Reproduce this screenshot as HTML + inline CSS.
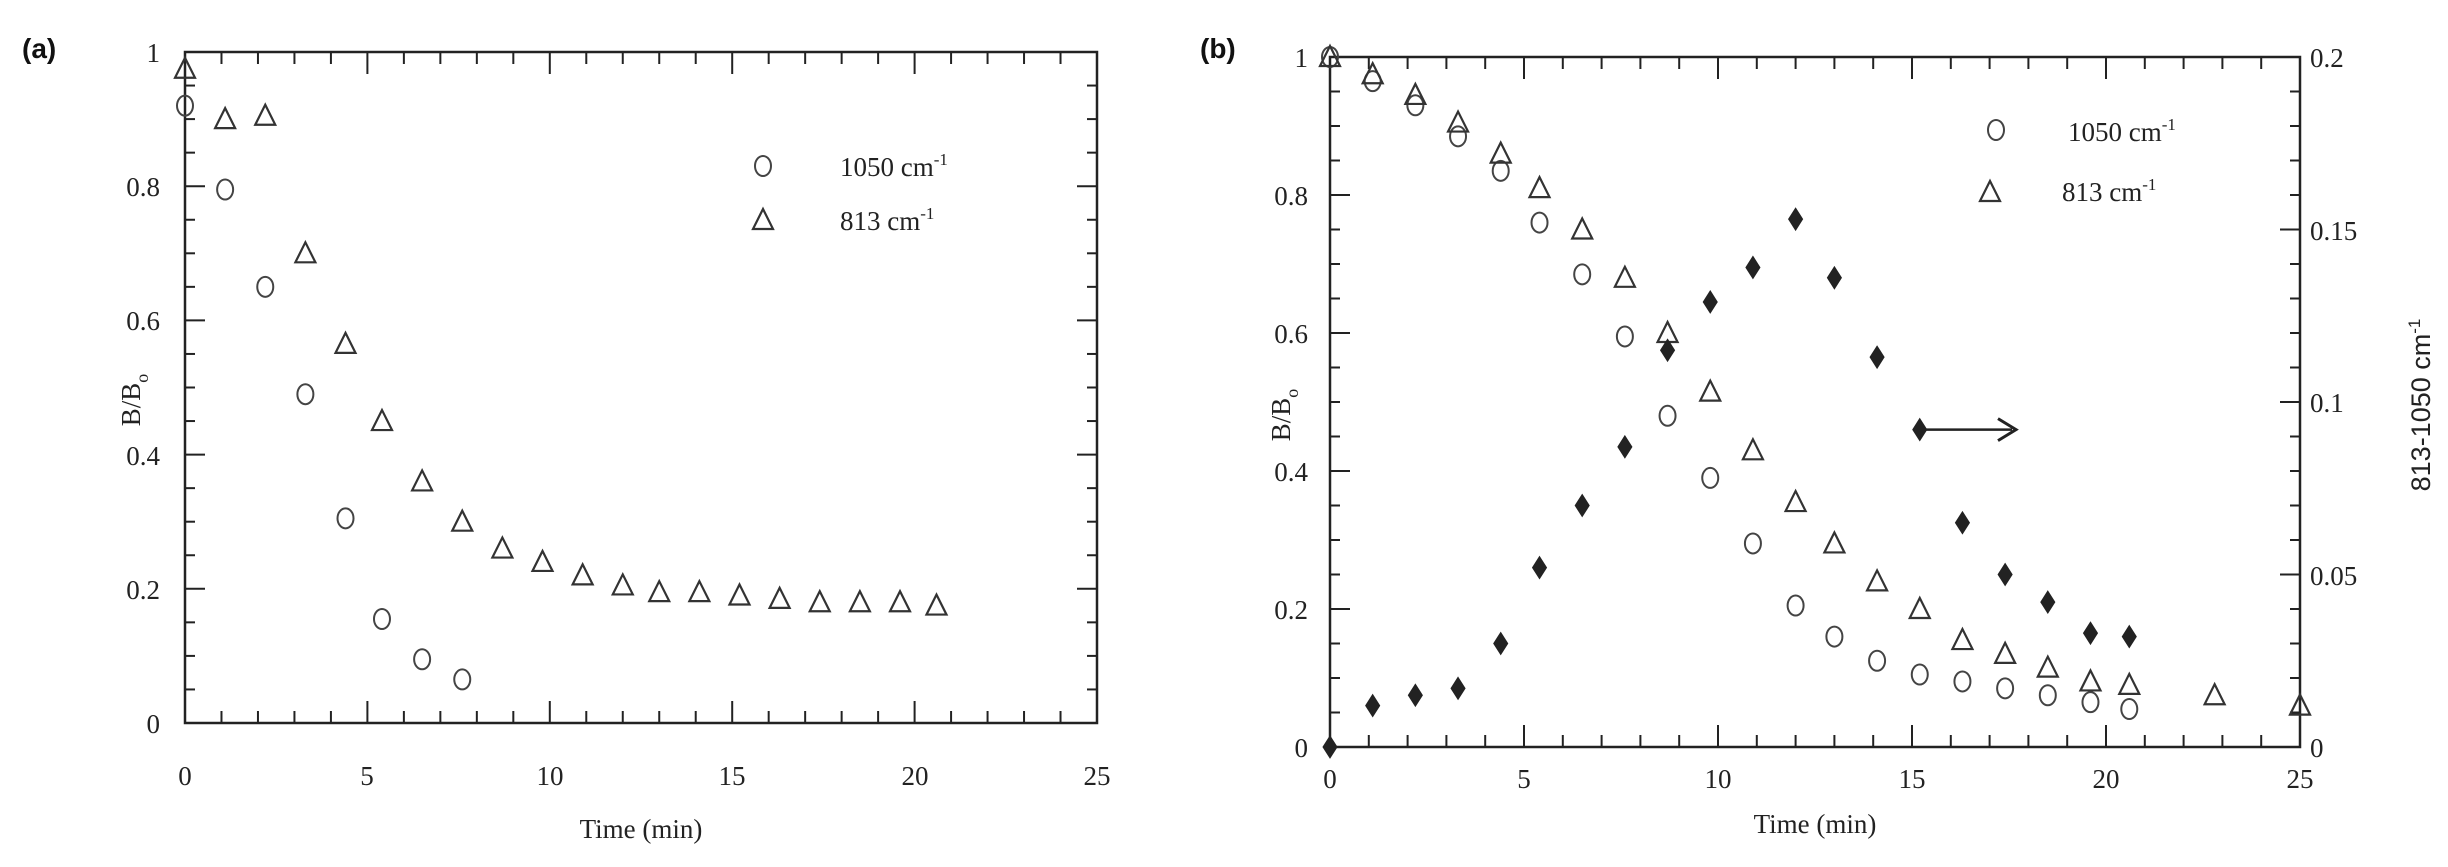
<!DOCTYPE html>
<html><head><meta charset="utf-8"><style>
html,body{margin:0;padding:0;background:#fff;}
svg{display:block;}
text{font-family:"Liberation Serif",serif;fill:#222;}
</style></head><body>
<svg id="s" width="2448" height="867" viewBox="0 0 2448 867" xmlns="http://www.w3.org/2000/svg">
<g id="g"></g>
<text x="22" y="58" style="font-family:'Liberation Sans',sans-serif;font-weight:bold;font-size:28px;fill:#111">(a)</text>
<text x="1200" y="58" style="font-family:'Liberation Sans',sans-serif;font-weight:bold;font-size:28px;fill:#111">(b)</text>
<g font-size="27" text-anchor="end">
<text x="160" y="62">1</text><text x="160" y="196">0.8</text><text x="160" y="330">0.6</text><text x="160" y="465">0.4</text><text x="160" y="599">0.2</text><text x="160" y="733">0</text>
<text x="1308" y="67">1</text><text x="1308" y="205">0.8</text><text x="1308" y="343">0.6</text><text x="1308" y="481">0.4</text><text x="1308" y="619">0.2</text><text x="1308" y="757">0</text>
</g>
<g font-size="27" text-anchor="start">
<text x="2310" y="67">0.2</text><text x="2310" y="240">0.15</text><text x="2310" y="412">0.1</text><text x="2310" y="585">0.05</text><text x="2310" y="757">0</text>
</g>
<g font-size="27" text-anchor="middle">
<text x="185" y="785">0</text><text x="367" y="785">5</text><text x="550" y="785">10</text><text x="732" y="785">15</text><text x="915" y="785">20</text><text x="1097" y="785">25</text>
<text x="1330" y="788">0</text><text x="1524" y="788">5</text><text x="1718" y="788">10</text><text x="1912" y="788">15</text><text x="2106" y="788">20</text><text x="2300" y="788">25</text>
<text x="641" y="838">Time (min)</text>
<text x="1815" y="833">Time (min)</text>
</g>
<text transform="translate(140,400) rotate(-90)" font-size="27" text-anchor="middle">B/B<tspan font-size="18" dy="8">o</tspan></text>
<text transform="translate(1290,415) rotate(-90)" font-size="27" text-anchor="middle">B/B<tspan font-size="18" dy="8">o</tspan></text>
<text transform="translate(2430,405) rotate(-90)" font-size="27" text-anchor="middle" style="font-family:'Liberation Sans',sans-serif">813-1050 cm<tspan font-size="17" dy="-10">-1</tspan></text>
<text x="840" y="176" font-size="27">1050 cm<tspan font-size="17" dy="-11">-1</tspan></text>
<text x="840" y="230" font-size="27">813 cm<tspan font-size="17" dy="-11">-1</tspan></text>
<text x="2068" y="141" font-size="27">1050 cm<tspan font-size="17" dy="-11">-1</tspan></text>
<text x="2062" y="201" font-size="27">813 cm<tspan font-size="17" dy="-11">-1</tspan></text>
</svg>
<script>
var NS="http://www.w3.org/2000/svg",g=document.getElementById("g");
function el(t,a){var e=document.createElementNS(NS,t);for(var k in a)e.setAttribute(k,a[k]);g.appendChild(e);return e;}
function line(x1,y1,x2,y2,w){el("line",{x1:x1,y1:y1,x2:x2,y2:y2,stroke:"#222","stroke-width":w||2});}
function circ(x,y){el("ellipse",{cx:x,cy:y,rx:8,ry:10,fill:"none",stroke:"#444","stroke-width":2});}
function tri(x,y){el("polygon",{points:(x-10)+","+(y+9)+" "+(x+10)+","+(y+9)+" "+x+","+(y-11),fill:"none",stroke:"#333","stroke-width":2.2});}
function dia(x,y){el("polygon",{points:x+","+(y-11)+" "+(x+7)+","+y+" "+x+","+(y+11)+" "+(x-7)+","+y,fill:"#222",stroke:"#222","stroke-width":1});}
function axes(L,R,T,B,rightMinor){
 el("rect",{x:L,y:T,width:R-L,height:B-T,fill:"none",stroke:"#222","stroke-width":2.5});
 var px=(R-L)/25;
 for(var i=1;i<25;i++){var len=i%5==0?22:12;var x=L+i*px;line(x,B,x,B-len);line(x,T,x,T+len);}
 var py=(B-T);
 for(var j=1;j<20;j++){var y=B-j*0.05*py;var len=j%4==0?20:10;line(L,y,L+len,y);if(!rightMinor)line(R,y,R-len,y);}
 if(rightMinor){for(var j=1;j<20;j++){var y=B-j*0.01*py/0.2;var len=j%5==0?20:10;line(R,y,R-len,y);}}
}
// Panel a
var aL=185,aR=1097,aT=52,aB=723;
axes(aL,aR,aT,aB,false);
function ax(t){return aL+t*(aR-aL)/25;} function ay(v){return aB-v*(aB-aT);}
[[0,.92],[1.1,.795],[2.2,.65],[3.3,.49],[4.4,.305],[5.4,.155],[6.5,.095],[7.6,.065]].forEach(function(p){circ(ax(p[0]),ay(p[1]));});
[[0,.975],[1.1,.9],[2.2,.905],[3.3,.7],[4.4,.565],[5.4,.45],[6.5,.36],[7.6,.3],[8.7,.26],[9.8,.24],[10.9,.22],[12,.205],[13,.195],[14.1,.195],[15.2,.19],[16.3,.185],[17.4,.18],[18.5,.18],[19.6,.18],[20.6,.175]].forEach(function(p){tri(ax(p[0]),ay(p[1]));});
circ(763,166);tri(763,220);
// Panel b
var bL=1330,bR=2300,bT=57,bB=747;
axes(bL,bR,bT,bB,true);
function bx(t){return bL+t*(bR-bL)/25;} function by(v){return bB-v*(bB-bT);} function by2(v){return bB-v/0.2*(bB-bT);}
[[0,1],[1.1,.965],[2.2,.93],[3.3,.885],[4.4,.835],[5.4,.76],[6.5,.685],[7.6,.595],[8.7,.48],[9.8,.39],[10.9,.295],[12,.205],[13,.16],[14.1,.125],[15.2,.105],[16.3,.095],[17.4,.085],[18.5,.075],[19.6,.065],[20.6,.055]].forEach(function(p){circ(bx(p[0]),by(p[1]));});
[[0,1],[1.1,.975],[2.2,.945],[3.3,.905],[4.4,.86],[5.4,.81],[6.5,.75],[7.6,.68],[8.7,.6],[9.8,.515],[10.9,.43],[12,.355],[13,.295],[14.1,.24],[15.2,.2],[16.3,.155],[17.4,.135],[18.5,.115],[19.6,.095],[20.6,.09],[22.8,.075],[25,.06]].forEach(function(p){tri(bx(p[0]),by(p[1]));});
[[0,0],[1.1,.012],[2.2,.015],[3.3,.017],[4.4,.03],[5.4,.052],[6.5,.07],[7.6,.087],[8.7,.115],[9.8,.129],[10.9,.139],[12,.153],[13,.136],[14.1,.113],[15.2,.092],[16.3,.065],[17.4,.05],[18.5,.042],[19.6,.033],[20.6,.032]].forEach(function(p){dia(bx(p[0]),by2(p[1]));});
var ay0=by2(.092);line(bx(15.2),ay0,2012,ay0,2.5);
el("polyline",{points:"1998,"+(ay0-11)+" 2016,"+ay0+" 1998,"+(ay0+11),fill:"none",stroke:"#222","stroke-width":3});
circ(1996,130);tri(1990,192);
</script>
</body></html>
